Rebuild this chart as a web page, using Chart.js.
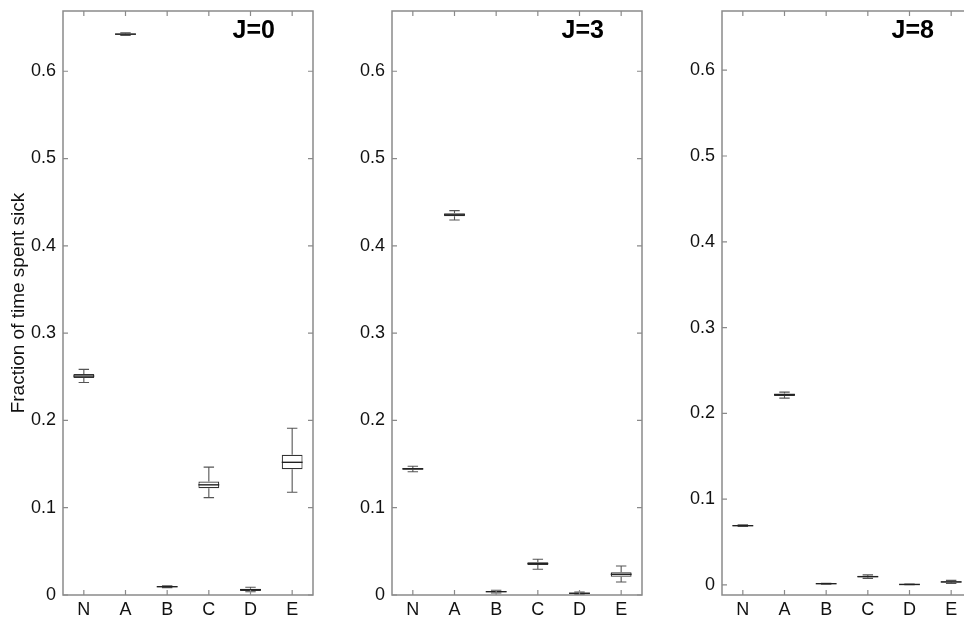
<!DOCTYPE html>
<html><head><meta charset="utf-8">
<script src="https://cdn.jsdelivr.net/npm/chart.js@4"></script>
<style>
html,body{margin:0;padding:0;background:#fff;overflow:hidden;width:964px;height:619px;}
.p{position:absolute;top:0;width:330px;height:619px;}
</style></head><body>
<div class="p" style="left:0px"><canvas id="c0"></canvas></div>
<div class="p" style="left:329px"><canvas id="c1"></canvas></div>
<div class="p" style="left:659px"><canvas id="c2"></canvas></div>
<script>
const categories = ['N','A','B','C','D','E'];
const yTickValues = [0, 0.1, 0.2, 0.3, 0.4, 0.5, 0.6];
const panelLabels = ['J=0', 'J=3', 'J=8'];
const yAxisTitle = 'Fraction of time spent sick';
const yMinValues = [0, 0, -0.0117];
const yMaxValues = [0.669, 0.669, 0.669];

// J=0 : whisker low, Q1, median, Q3, whisker high
const j0Low  = [0.2435, 0.6410, 0.0085, 0.1115, 0.0038, 0.1177];
const j0Q1   = [0.2485, 0.6418, 0.0091, 0.1224, 0.0046, 0.1440];
const j0Med  = [0.2508, 0.6425, 0.0095, 0.1262, 0.0061, 0.1520];
const j0Q3   = [0.2531, 0.6432, 0.0099, 0.1300, 0.0072, 0.1607];
const j0High = [0.2585, 0.6440, 0.0105, 0.1465, 0.0088, 0.1910];

// J=3
const j3Low  = [0.1412, 0.4296, 0.0023, 0.0295, 0.0005, 0.0149];
const j3Q1   = [0.1435, 0.4339, 0.0033, 0.0344, 0.0015, 0.0210];
const j3Med  = [0.1445, 0.4355, 0.0038, 0.0360, 0.0020, 0.0237];
const j3Q3   = [0.1455, 0.4373, 0.0043, 0.0375, 0.0026, 0.0260];
const j3High = [0.1475, 0.4403, 0.0054, 0.0410, 0.0034, 0.0333];

// J=8
const j8Low  = [0.0682, 0.2178, 0.0010, 0.0077, 0.0002, 0.0017];
const j8Q1   = [0.0687, 0.2202, 0.0013, 0.0089, 0.0004, 0.0028];
const j8Med  = [0.0691, 0.2218, 0.0015, 0.0097, 0.0006, 0.0035];
const j8Q3   = [0.0696, 0.2233, 0.0017, 0.0105, 0.0008, 0.0042];
const j8High = [0.0700, 0.2248, 0.0020, 0.0117, 0.0010, 0.0053];

const FONT = "'Liberation Sans', Arial, Helvetica, sans-serif";
const FRAME = '#8a8a8a';

const boxPlugin = {
  id: 'boxExtras',
  afterDatasetsDraw(chart) {
    const ctx = chart.ctx;
    const ds = chart.data.datasets[0];
    const meta = chart.getDatasetMeta(0);
    const ys = chart.scales.y;
    ctx.save();
    meta.data.forEach((el, i) => {
      const x = el.x, w = el.width;
      const yLo = ys.getPixelForValue(ds.low[i]);
      const yHi = ys.getPixelForValue(ds.high[i]);
      const yQ1 = ys.getPixelForValue(ds.data[i][0]);
      const yQ3 = ys.getPixelForValue(ds.data[i][1]);
      const yMd = ys.getPixelForValue(ds.med[i]);
      ctx.strokeStyle = '#555';
      ctx.lineWidth = 1.1;
      ctx.beginPath();
      ctx.moveTo(x, yQ3); ctx.lineTo(x, yHi);
      ctx.moveTo(x, yQ1); ctx.lineTo(x, yLo);
      ctx.moveTo(x - w / 4, yHi); ctx.lineTo(x + w / 4, yHi);
      ctx.moveTo(x - w / 4, yLo); ctx.lineTo(x + w / 4, yLo);
      ctx.stroke();
      ctx.strokeStyle = '#222';
      ctx.lineWidth = 1.4;
      ctx.beginPath();
      ctx.moveTo(x - w / 2, yMd); ctx.lineTo(x + w / 2, yMd);
      ctx.stroke();
    });
    ctx.restore();
  },
  afterDraw(chart) {
    const ctx = chart.ctx;
    const a = chart.chartArea;
    const xs = chart.scales.x, ys = chart.scales.y;
    ctx.save();
    ctx.strokeStyle = FRAME;
    ctx.lineWidth = 1.5;
    ctx.strokeRect(a.left, a.top, a.right - a.left, a.bottom - a.top);
    ctx.lineWidth = 1.2;
    ctx.beginPath();
    const tl = 5;
    ys.ticks.forEach(t => {
      const y = ys.getPixelForValue(t.value);
      ctx.moveTo(a.left, y); ctx.lineTo(a.left + tl, y);
      ctx.moveTo(a.right, y); ctx.lineTo(a.right - tl, y);
    });
    categories.forEach((c, i) => {
      const x = xs.getPixelForValue(i);
      ctx.moveTo(x, a.top); ctx.lineTo(x, a.top + tl);
      ctx.moveTo(x, a.bottom); ctx.lineTo(x, a.bottom - tl);
    });
    ctx.stroke();
    const lab = chart.options.plugins.boxExtras.label;
    ctx.fillStyle = '#000';
    ctx.font = 'bold 25px ' + FONT;
    ctx.textAlign = 'right';
    ctx.textBaseline = 'alphabetic';
    ctx.fillText(lab, a.right - 38, a.top + 27);
    ctx.restore();
  }
};

function makeChart(id, idx, low, q1, med, q3, high, showTitle) {
  return new Chart(document.getElementById(id), {
    type: 'bar',
    data: {
      labels: categories,
      datasets: [{
        data: q1.map((v, i) => [v, q3[i]]),
        low: low, high: high, med: med,
        backgroundColor: '#ffffff',
        borderColor: '#333333',
        borderWidth: 1.2,
        borderSkipped: false,
        barPercentage: 0.5,
        categoryPercentage: 1.0
      }]
    },
    options: {
      responsive: true,
      maintainAspectRatio: false,
      animation: false,
      devicePixelRatio: 1,
      layout: { padding: { left: 0, right: 17, top: 11, bottom: 0 } },
      plugins: {
        legend: { display: false },
        tooltip: { enabled: false },
        boxExtras: { label: panelLabels[idx] }
      },
      scales: {
        x: {
          type: 'category',
          offset: true,
          grid: { display: false, drawTicks: false },
          border: { display: false },
          ticks: { color: '#111', font: { family: FONT, size: 18 }, padding: 4, maxRotation: 0 },
          afterFit: s => { s.height = 24; s.paddingLeft = 0; s.paddingRight = 0; }
        },
        y: {
          type: 'linear',
          min: yMinValues[idx],
          max: yMaxValues[idx],
          grid: { display: false, drawTicks: false },
          border: { display: false },
          afterBuildTicks: s => { s.ticks = yTickValues.map(v => ({ value: v })); },
          ticks: {
            color: '#111', font: { family: FONT, size: 18 }, padding: 7,
            callback: v => String(Math.round(v * 10) / 10)
          },
          title: {
            display: showTitle, text: yAxisTitle, color: '#111',
            font: { family: FONT, size: 19 }, padding: { top: 7, bottom: 0 }
          },
          afterFit: s => { s.width = 63; s.paddingTop = 0; s.paddingBottom = 0; }
        }
      }
    },
    plugins: [boxPlugin]
  });
}

makeChart('c0', 0, j0Low, j0Q1, j0Med, j0Q3, j0High, true);
makeChart('c1', 1, j3Low, j3Q1, j3Med, j3Q3, j3High, false);
makeChart('c2', 2, j8Low, j8Q1, j8Med, j8Q3, j8High, false);
</script>
</body></html>
